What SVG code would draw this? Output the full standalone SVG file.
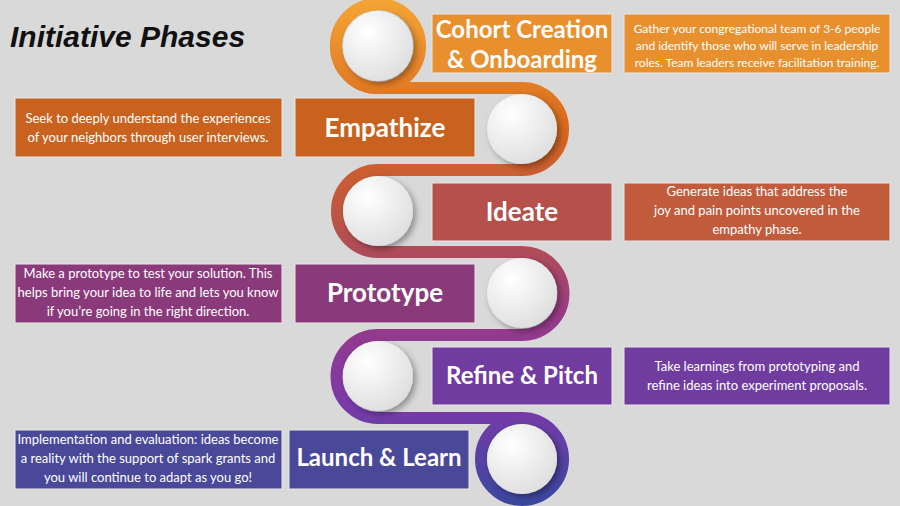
<svg xmlns="http://www.w3.org/2000/svg" width="900" height="506" viewBox="0 0 900 506">
<defs>
<linearGradient id="g" gradientUnits="userSpaceOnUse" x1="0" y1="0" x2="0" y2="506">
<stop offset="0" stop-color="#f4a535"/>
<stop offset="0.25" stop-color="#d9681d"/>
<stop offset="0.45" stop-color="#b8524a"/>
<stop offset="0.62" stop-color="#9a3a86"/>
<stop offset="0.8" stop-color="#7a3aa8"/>
<stop offset="1" stop-color="#3848a0"/>
</linearGradient>
<radialGradient id="w" cx="0.35" cy="0.3" r="0.8">
<stop offset="0" stop-color="#ffffff"/>
<stop offset="1" stop-color="#dcdcdc"/>
</radialGradient>
<filter id="s" x="-30%" y="-30%" width="160%" height="160%"><feDropShadow dx="3" dy="3" stdDeviation="3" flood-opacity="0.35"/></filter>
</defs>
<style>
.b{stroke:#e8e8e8;stroke-width:1}
.t{font-family:Lato,"Liberation Sans",sans-serif;font-weight:bold;fill:#fff;font-size:24px;text-anchor:middle}
.d{font-family:Lato,"Liberation Sans",sans-serif;fill:#fff;font-size:13px;text-anchor:middle}
.d2{font-size:12px}
.l{font-size:26px}
.c{fill:url(#w);filter:url(#s)}
</style>
<rect width="900" height="506" fill="#d9d9d9"/>
<text x="10" y="47" font-family="Liberation Sans,sans-serif" font-weight="bold" font-style="italic" font-size="30" fill="#111">Initiative Phases</text>
<g id="connectors" fill="none" stroke="url(#g)" stroke-width="12">
<path d="M378,4 A42,42 0 0 0 378,88 L522,88 A41,41 0 0 1 522,170 L378,170 A41,41 0 0 0 378,252 L522,252 A41.5,41.5 0 0 1 522,335 L378,335 A41.5,41.5 0 0 0 378,418 L522,418"/>
<circle cx="378" cy="46" r="42"/>
<circle cx="522" cy="459" r="41"/>
</g>
<g id="n1"><rect class="b" x="432" y="14" width="180" height="59" fill="#e8902e"/>
<text class="t" x="522" y="38">Cohort Creation</text><text class="t" x="522" y="68">&amp; Onboarding</text>
<circle class="c" cx="378" cy="46" r="35"/>
<rect class="b" x="624" y="14" width="266" height="59" fill="#e8902e"/>
<text class="d d2" x="757" y="33">Gather your congregational team of 3-6 people</text><text class="d d2" x="757" y="50">and identify those who will serve in leadership</text><text class="d d2" x="757" y="67">roles. Team leaders receive facilitation training.</text></g>
<g id="n2"><rect class="b" x="295" y="98" width="180" height="59" fill="#c8621e"/>
<text class="t l" x="385" y="137">Empathize</text>
<circle class="c" cx="522" cy="129" r="35"/>
<rect class="b" x="15" y="98" width="267" height="59" fill="#c8621e"/>
<text class="d" x="148" y="123">Seek to deeply understand the experiences</text><text class="d" x="148" y="142">of your neighbors through user interviews.</text></g>
<g id="n3"><rect class="b" x="432" y="183" width="180" height="58" fill="#b5504a"/>
<text class="t l" x="522" y="221">Ideate</text>
<circle class="c" cx="378" cy="211" r="35"/>
<rect class="b" x="624" y="183" width="266" height="58" fill="#c15b3c"/>
<text class="d" x="757" y="196">Generate ideas that address the</text><text class="d" x="757" y="215">joy and pain points uncovered in the</text><text class="d" x="757" y="234">empathy phase.</text></g>
<g id="n4"><rect class="b" x="295" y="264" width="180" height="59" fill="#8a3a7a"/>
<text class="t l" x="385" y="302">Prototype</text>
<circle class="c" cx="522" cy="293" r="35"/>
<rect class="b" x="15" y="264" width="267" height="59" fill="#8a3a7a"/>
<text class="d" x="148" y="278">Make a prototype to test your solution. This</text><text class="d" x="148" y="297">helps bring your idea to life and lets you know</text><text class="d" x="148" y="316">if you’re going in the right direction.</text></g>
<g id="n5"><rect class="b" x="432" y="347" width="180" height="58" fill="#703ca0"/>
<text class="t" x="522" y="384">Refine &amp; Pitch</text>
<circle class="c" cx="378" cy="376" r="35"/>
<rect class="b" x="624" y="347" width="266" height="58" fill="#703ca0"/>
<text class="d" x="757" y="371">Take learnings from prototyping and</text><text class="d" x="757" y="390">refine ideas into experiment proposals.</text></g>
<g id="n6"><rect class="b" x="289" y="430" width="180" height="59" fill="#4a4898"/>
<text class="t" x="379" y="466">Launch &amp; Learn</text>
<circle class="c" cx="522" cy="459" r="35"/>
<rect class="b" x="15" y="430" width="267" height="59" fill="#4a4898"/>
<text class="d" x="148" y="444">Implementation and evaluation: ideas become</text><text class="d" x="148" y="463">a reality with the support of spark grants and</text><text class="d" x="148" y="482">you will continue to adapt as you go!</text></g>
</svg>
